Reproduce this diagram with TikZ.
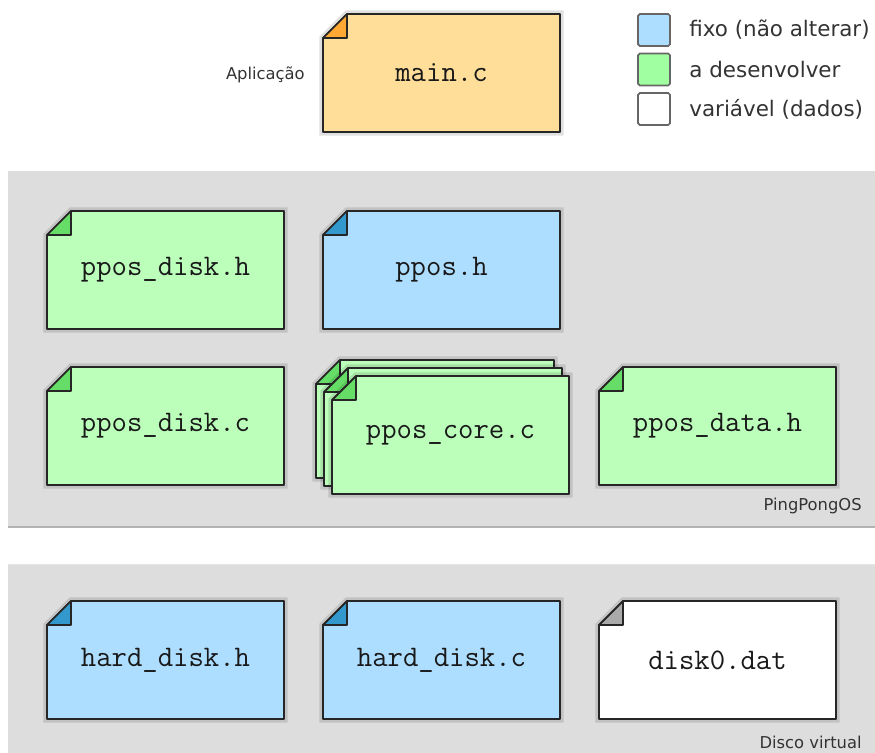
\documentclass[tikz,border=0pt]{standalone}
\usepackage{fontspec}
\newfontfamily\labelfont{DejaVu Sans}
\definecolor{fillapp}{HTML}{FFDE9A}
\definecolor{foldapp}{HTML}{FFA833}
\definecolor{filldev}{HTML}{BBFFBB}
\definecolor{folddev}{HTML}{66DD66}
\definecolor{fillfix}{HTML}{AEDEFF}
\definecolor{foldfix}{HTML}{3399CC}
\definecolor{filldata}{HTML}{FFFFFF}
\definecolor{folddata}{HTML}{AAAAAA}
\definecolor{panelgray}{HTML}{DDDDDD}
\tikzset{
  filebody/.style={draw=black!85, line width=1pt, line join=round,
    preaction={draw=black, draw opacity=0.12, line width=4pt}},
  filefold/.style={draw=black!85, line width=1pt, line join=round},
  filename/.style={font=\ttfamily\fontsize{17}{20}\selectfont, text=black!90},
  legendbox/.style={draw=black!60, line width=1pt, rounded corners=1pt,
    minimum size=0.64cm, inner sep=0pt},
  legendtext/.style={font=\labelfont\fontsize{12.2}{14}\selectfont, text=black!80, anchor=west, inner sep=0pt},
  layername/.style={font=\labelfont\fontsize{9.3}{11}\selectfont, text=black!80, inner sep=0pt}
}
\begin{document}
\begin{tikzpicture}[x=0.02cm,y=-0.02cm]
  \useasboundingbox (0,0) rectangle (875,753);
  % layers
  \fill[panelgray] (8,171) rectangle (875,527);
  \draw[black!30, line width=1pt] (8,527) -- (875,527);
  \fill[panelgray] (8,564) rectangle (875,753);
  \draw[white!90!black, line width=1pt] (8,564.5) -- (875,564.5);
  \node[layername, anchor=east] (appname) at (305,75) {Aplicação};
  \node[layername, anchor=east] (osname) at (862,506) {PingPongOS};
  \node[layername, anchor=east] (diskname) at (862,742) {Disco virtual};
  % legend
  \node[legendbox, fill=fillfix] (keyfix) at (654,30) {};
  \node[legendbox, fill=filldev!80!green!90!white] (keydev) at (654,69.5) {};
  \node[legendbox, fill=white] (keydata) at (654,109) {};
  \node[legendtext] (txtfix) at (689,30) {fixo (não alterar)};
  \node[legendtext] (txtdev) at (689,69.5) {a desenvolver};
  \node[legendtext] (txtdata) at (689,109) {variável (dados)};
  % stacked copies behind ppos_core.c
  \foreach \d in {0,8}{
    \path[filebody, fill=filldev] (316+\d,384+\d) -- (340+\d,360+\d) -- (554+\d,360+\d)
      -- (554+\d,478+\d) -- (316+\d,478+\d) -- cycle;
    \path[filefold, fill=folddev] (316+\d,384+\d) -- (340+\d,360+\d) -- (340+\d,384+\d) -- cycle;
  }
  \def \Files{
    mainc/323/14/app/main.c,
    pposdiskh/47/211/dev/ppos\_disk.h,
    pposh/323/211/fix/ppos.h,
    pposdiskc/47/367/dev/ppos\_disk.c,
    pposcorec/332/376/dev/ppos\_core.c,
    pposdatah/599/367/dev/ppos\_data.h,
    harddiskh/47/601/fix/hard\_disk.h,
    harddiskc/323/601/fix/hard\_disk.c,
    diskdat/599/601/data/disk0.dat}
  \foreach \id / \x / \y / \kind / \txt in \Files{
    \path[filebody, fill=fill\kind] (\x,\y+24) -- (\x+24,\y) -- (\x+237,\y)
      -- (\x+237,\y+118) -- (\x,\y+118) -- cycle;
    \path[filefold, fill=fold\kind] (\x,\y+24) -- (\x+24,\y) -- (\x+24,\y+24) -- cycle;
    \node[filename] (\id) at (\x+118.5,\y+59) {\txt};
  }
\end{tikzpicture}
\end{document}
